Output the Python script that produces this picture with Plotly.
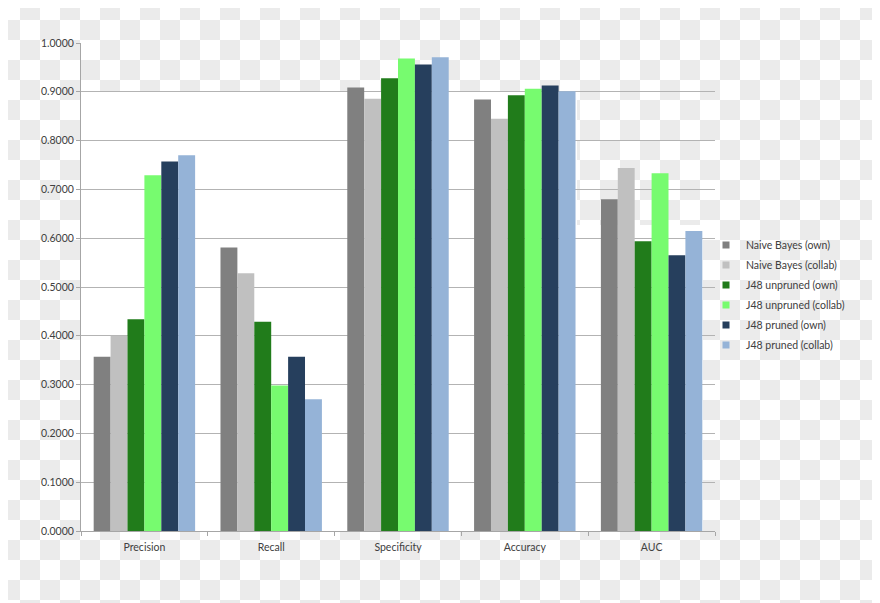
import base64, struct, zlib
import plotly.graph_objects as go

categories = ["Precision", "Recall", "Specificity", "Accuracy", "AUC"]
series_names = ["Naive Bayes (own)", "Naive Bayes (collab)", "J48 unpruned (own)",
                "J48 unpruned (collab)", "J48 pruned (own)", "J48 pruned (collab)"]
nb_own = [0.357, 0.581, 0.909, 0.884, 0.680]
nb_collab = [0.400, 0.528, 0.886, 0.845, 0.744]
j48u_own = [0.434, 0.429, 0.928, 0.893, 0.594]
j48u_collab = [0.729, 0.298, 0.968, 0.906, 0.733]
j48p_own = [0.757, 0.357, 0.956, 0.913, 0.565]
j48p_collab = [0.770, 0.270, 0.971, 0.901, 0.615]
series_values = [nb_own, nb_collab, j48u_own, j48u_collab, j48p_own, j48p_collab]
colors = ["#808080", "#c0c0c0", "#217c1b", "#77fb6f", "#263f5d", "#95b3d7"]
y_ticks = [i / 10 for i in range(11)]
y_tick_labels = [f"{v:.4f}" for v in y_ticks]

# page has an 8px body margin: figure pixel (x, y) lands at page (x+8, y+8)
OFF = 8
W, H = 880, 603
# plot area in page coordinates: x 81..715, y 43..531
L, T = 81 - OFF, 43 - OFF
R, B = W - (715 - OFF), H - (531 - OFF)
PW, PH = W - L - R, H - T - B


def checker_png(w, h, sq=20, light=255, dark=235, off=OFF):
    raw = bytearray()
    for y in range(h):
        raw.append(0)
        ry = ((y + off) // sq) % 2
        row = bytearray()
        for x in range(w):
            v = dark if (((x + off) // sq) % 2) ^ ry else light
            row += bytes((v, v, v))
        raw += row
    def chunk(t, d):
        c = struct.pack(">I", len(d)) + t + d
        return c + struct.pack(">I", zlib.crc32(t + d) & 0xffffffff)
    png = b"\x89PNG\r\n\x1a\n" + chunk(b"IHDR", struct.pack(">IIBBBBB", w, h, 8, 2, 0, 0, 0))
    png += chunk(b"IDAT", zlib.compress(bytes(raw), 9)) + chunk(b"IEND", b"")
    return "data:image/png;base64," + base64.b64encode(png).decode()


def px(x):  # page x -> paper fraction
    return (x - OFF - L) / PW


def py(y):  # page y -> paper fraction
    return (H - B - (y - OFF)) / PH


fig = go.Figure()
for name, vals, col in zip(series_names, series_values, colors):
    fig.add_trace(go.Bar(x=categories, y=vals, name=name, marker=dict(color=col, line=dict(width=0)),
                         showlegend=False))
for name, col in zip(series_names, colors):
    fig.add_trace(go.Scatter(x=[None], y=[None], mode="markers", name=name, legendgroup=name,
                             marker=dict(symbol="square", size=7, color=col)))

fig.update_layout(
    width=W, height=H,
    margin=dict(l=L, r=R, t=T, b=B, pad=0),
    paper_bgcolor="white",
    plot_bgcolor="rgba(0,0,0,0)",
    barmode="group", bargap=0.2, bargroupgap=0,
    font=dict(family="Lato, 'Liberation Sans', sans-serif", size=10.5, color="#404040"),
    images=[dict(source=checker_png(W, H), xref="paper", yref="paper",
                 x=-L / PW, y=1 + T / PH, sizex=W / PW, sizey=H / PH,
                 xanchor="left", yanchor="top", sizing="stretch", layer="below")],
    shapes=[
        dict(type="rect", xref="paper", yref="paper", x0=0, x1=px(577), y0=0, y1=py(92),
             fillcolor="white", line=dict(width=0), layer="below"),
        dict(type="rect", xref="paper", yref="paper", x0=px(577), x1=px(703), y0=0, y1=py(225),
             fillcolor="white", line=dict(width=0), layer="below"),
    ],
    legend=dict(x=px(706), xanchor="left", y=py(295), yanchor="middle",
                bgcolor="rgba(0,0,0,0)", font=dict(size=10.5, color="#404040"),
                itemwidth=30, tracegroupgap=1),
    xaxis=dict(showline=True, linecolor="#a6a6a6", linewidth=1, ticks="outside",
               tickson="boundaries", ticklen=4, tickcolor="#a6a6a6", showgrid=False,
               ticklabelstandoff=6, tickfont=dict(size=10.5, color="#404040")),
    yaxis=dict(range=[0, 1], tickvals=y_ticks, ticktext=y_tick_labels,
               showline=True, linecolor="#a6a6a6", linewidth=1, ticks="outside",
               ticklen=4, tickcolor="#a6a6a6", showgrid=True, gridcolor="#b3b3b3",
               gridwidth=1, zeroline=False, tickfont=dict(size=10.5, color="#404040")),
)

fig.write_html("out.html")
